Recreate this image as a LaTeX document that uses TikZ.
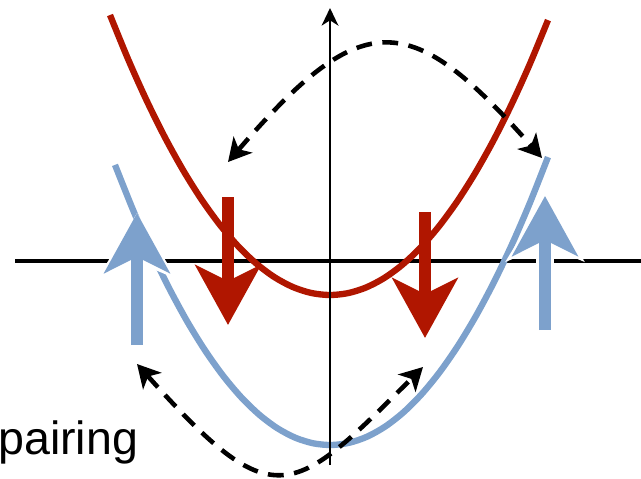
\documentclass[tikz,border=0pt]{standalone}
\usepackage{fontspec}
\setmainfont{Liberation Sans}
\usepackage{xcolor}
\usetikzlibrary{arrows.meta,arrows}
\definecolor{bandred}{RGB}{176,22,0}
\definecolor{bandblue}{RGB}{125,161,204}
\tikzset{
spin/.style={line width=6.8pt,-{Stealth[length=34pt,width=37pt,inset=9pt]}},
spinedge/.style={spin,preaction={draw=white,line width=10pt,-{Stealth[length=37pt,width=44pt,inset=9pt]}}},
hop/.style={line width=2.6pt,dash pattern=on 9pt off 6pt,{Stealth[length=13pt,width=14pt,inset=3.5pt]}-{Stealth[length=13pt,width=14pt,inset=3.5pt]}}
}
\begin{document}
\begin{tikzpicture}[x=0.02cm,y=-0.02cm,>=stealth]
\useasboundingbox(0,0)rectangle(641,478);
% axes
\coordinate(xl)at(15,261);\coordinate(xr)at(641,261);
\coordinate(yb)at(330,465);\coordinate(yt)at(330,8);
\draw[line width=2.3pt](xl)--(xr);
% bands
\draw[bandred,line width=3.6pt,smooth,domain=-2.2:2.18,variable=\t]plot({330+100*\t},{295-57.85*\t*\t});
\draw[bandblue,line width=3.6pt,smooth,domain=-2.15:2.18,variable=\t]plot({330+100*\t},{445-60.6*\t*\t});
\draw[line width=1.3pt,-{Stealth[length=10pt,width=9.5pt,inset=3pt]}](yb)--(yt);
% spins
\coordinate(r1a)at(228,197);\coordinate(r1b)at(228,325);
\coordinate(r2a)at(425,212);\coordinate(r2b)at(425,338);
\coordinate(b1a)at(137,345);\coordinate(b1b)at(137,213);
\coordinate(b2a)at(545,330);\coordinate(b2b)at(545,196);
\draw[spin,bandred](r1a)--(r1b);
\draw[spin,bandred](r2a)--(r2b);
\draw[spinedge,bandblue](b1a)--(b1b);
\draw[spinedge,bandblue](b2a)--(b2b);
% scattering
\coordinate(t1)at(228,162);\coordinate(t2)at(542,158);
\coordinate(u1)at(137,364);\coordinate(u2)at(423,367);
\draw[hop](t1)..controls(364,4)and(411,10)..(t2);
\draw[hop](u1)..controls(274,517)and(291,499)..(u2);
\node[anchor=base west,inner sep=0pt,font=\fontsize{26.5}{30}\selectfont](lbl)at(-2,454){pairing};
\end{tikzpicture}
\end{document}
